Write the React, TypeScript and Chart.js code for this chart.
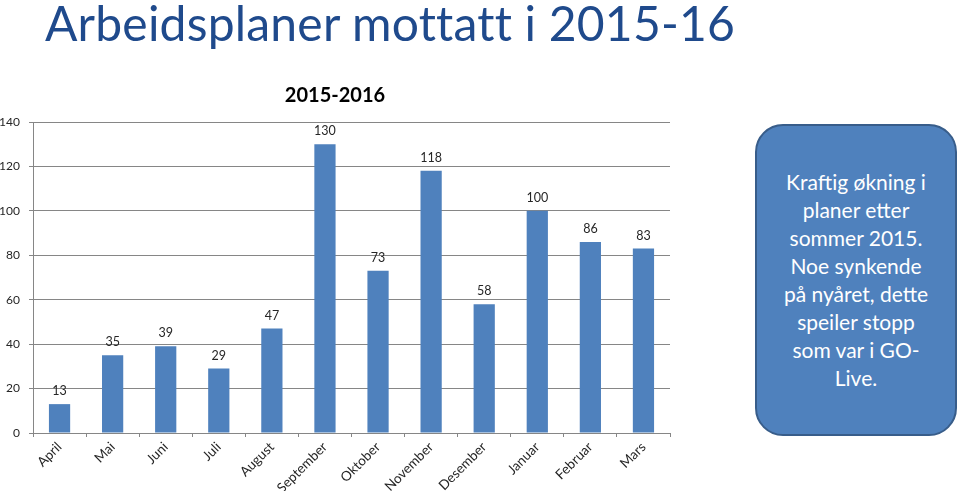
import React, { useEffect, useRef } from "react";
import { Chart, registerables } from "chart.js";

Chart.register(...registerables);

const months = ["April", "Mai", "Juni", "Juli", "August", "September", "Oktober", "November", "Desember", "Januar", "Februar", "Mars"];
const plans = [13, 35, 39, 29, 47, 130, 73, 118, 58, 100, 86, 83];
const yTicks = [0, 20, 40, 60, 80, 100, 120, 140];
const mainTitle = "Arbeidsplaner mottatt i 2015-16";
const chartTitle = "2015-2016";
const calloutLines = ["Kraftig økning i", "planer etter", "sommer 2015.", "Noe synkende", "på nyåret, dette", "speiler stopp", "som var i GO-", "Live."];

const FONT = "Lato, 'Open Sans', sans-serif";

const valueLabels = {
  id: "valueLabels",
  afterDatasetsDraw(chart: any) {
    const ctx = chart.ctx;
    const meta = chart.getDatasetMeta(0);
    ctx.save();
    ctx.font = `12.5px ${FONT}`;
    ctx.fillStyle = "#262626";
    ctx.textAlign = "center";
    ctx.textBaseline = "alphabetic";
    meta.data.forEach((bar: any, i: number) => {
      ctx.fillText(String(plans[i]), bar.x, bar.y - 9);
    });
    ctx.restore();
  },
};

export default function App() {
  const ref = useRef<HTMLCanvasElement | null>(null);
  useEffect(() => {
    if (!ref.current) return;
    const chart = new Chart(ref.current, {
      type: "bar",
      data: {
        labels: months,
        datasets: [
          {
            data: plans,
            backgroundColor: "#4F81BD",
            barPercentage: 0.4,
            categoryPercentage: 1,
          },
        ],
      },
      options: {
        responsive: false,
        animation: false,
        layout: { padding: { top: 0, left: 0, right: 10, bottom: 0 } },
        plugins: {
          legend: { display: false },
          tooltip: { enabled: false },
          title: {
            display: true,
            text: chartTitle,
            color: "#000000",
            font: { family: FONT, size: 20, weight: "bold", lineHeight: 1.2 },
            padding: { top: 84, bottom: 14 },
          },
        },
        scales: {
          x: {
            afterFit: (s: any) => { s.height = 58; },
            grid: {
              display: true,
              drawOnChartArea: false,
              drawTicks: true,
              tickLength: 4,
              color: "#868686",
              offset: true,
            },
            border: { display: true, color: "#868686" },
            ticks: {
              color: "#262626",
              font: { family: FONT, size: 13.5 },
              minRotation: 45,
              maxRotation: 45,
              autoSkip: false,
              padding: 2,
            },
          },
          y: {
            min: 0,
            max: 140,
            afterFit: (s: any) => { s.width = 33; },
            afterBuildTicks: (s: any) => { s.ticks = yTicks.map((v) => ({ value: v })); },
            grid: { color: "#868686", tickLength: 4, drawTicks: true },
            border: { display: true, color: "#868686" },
            ticks: {
              stepSize: 20,
              color: "#262626",
              font: { family: FONT, size: 12 },
              padding: 9,
            },
          },
        },
      },
      plugins: [valueLabels],
    });
    return () => chart.destroy();
  }, []);

  return (
    <div style={{ position: "absolute", left: 0, top: 0, width: 959, height: 491, background: "#ffffff", overflow: "hidden" }}>
      <canvas ref={ref} width={680} height={491} style={{ position: "absolute", left: 0, top: 0, width: 680, height: 491 }} />
      <div
        style={{
          position: "absolute",
          left: 45,
          top: -6,
          fontFamily: FONT,
          fontSize: 48,
          letterSpacing: "0.2px",
          color: "#1F4A8C",
          whiteSpace: "nowrap",
          lineHeight: "58px",
        }}
      >
        {mainTitle}
      </div>
      <div
        style={{
          position: "absolute",
          left: 755,
          top: 124,
          width: 202,
          height: 312,
          boxSizing: "border-box",
          background: "#4F81BD",
          border: "2px solid #385D8A",
          borderRadius: 28,
          display: "flex",
          flexDirection: "column",
          justifyContent: "center",
          alignItems: "center",
          color: "#ffffff",
          fontFamily: FONT,
          fontSize: 21,
          lineHeight: "28px",
          textAlign: "center",
        }}
      >
        {calloutLines.map((l, i) => (
          <div key={i}>{l}</div>
        ))}
      </div>
    </div>
  );
}
